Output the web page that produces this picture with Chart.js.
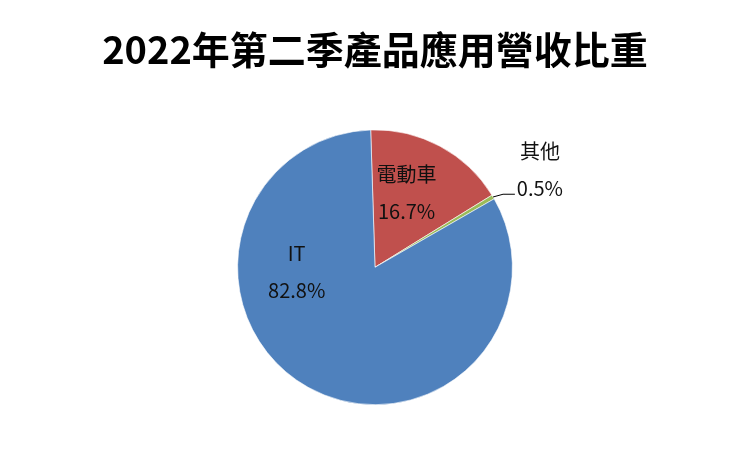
<!DOCTYPE html>
<html lang="zh-Hant">
  <head>
    <meta charset="UTF-8" />
    <title>2022年第二季產品應用營收比重</title>
    <script src="https://cdn.jsdelivr.net/npm/chart.js"></script>
    <style>
      html, body { margin: 0; padding: 0; background: #fff; }
      #wrap { width: 750px; height: 450px; }
    </style>
  </head>
  <body>
    <div id="wrap"><canvas id="pie"></canvas></div>
    <script>
      const categories = ["電動車", "其他", "IT"];
      const shares = [16.7, 0.5, 82.8];
      const sliceColors = ["#C0504D", "#9BBB59", "#4F81BD"];

      // label anchors in units of the pie radius, relative to its centre
      const labelSpots = [
        { dx: 0.23, dy: -0.54 },
        { dx: 1.2, dy: -0.71, leader: true },
        { dx: -0.57, dy: 0.03 },
      ];

      const FONT = '"Noto Sans CJK TC", "Noto Sans", sans-serif';

      const sliceLabels = {
        id: "sliceLabels",
        afterDatasetsDraw(chart) {
          const ctx = chart.ctx;
          const arcs = chart.getDatasetMeta(0).data;
          ctx.save();
          ctx.font = "20px " + FONT;
          ctx.fillStyle = "#111";
          ctx.textAlign = "center";
          ctx.textBaseline = "middle";
          arcs.forEach((arc, i) => {
            const { x, y, outerRadius: r, startAngle, endAngle } = arc;
            const spot = labelSpots[i];
            const cx = x + spot.dx * r;
            const cy = y + spot.dy * r;
            const gap = 18.5;
            ctx.fillText(categories[i], cx, cy - gap);
            ctx.fillText(shares[i].toFixed(1) + "%", cx, cy + gap);
            if (spot.leader) {
              const mid = (startAngle + endAngle) / 2;
              const ex = x + Math.cos(mid) * r;
              const ey = y + Math.sin(mid) * r;
              const ty = cy + gap + 6;
              const tx = cx - 25;
              ctx.beginPath();
              ctx.strokeStyle = "#000";
              ctx.lineWidth = 1;
              ctx.moveTo(ex, ey);
              ctx.lineTo(ex + 10, ty);
              ctx.lineTo(tx, ty);
              ctx.stroke();
            }
          });
          ctx.restore();
        },
      };

      new Chart(document.getElementById("pie"), {
        type: "pie",
        data: {
          labels: categories,
          datasets: [
            {
              data: shares,
              backgroundColor: sliceColors,
              borderColor: "#fff",
              borderWidth: 0.6,
            },
          ],
        },
        options: {
          responsive: true,
          maintainAspectRatio: false,
          animation: false,
          rotation: -1.8,
          layout: { padding: { top: 0, bottom: 45 } },
          plugins: {
            legend: { display: false },
            tooltip: { enabled: false },
            title: {
              display: true,
              text: "2022年第二季產品應用營收比重",
              color: "#000",
              font: { family: FONT, size: 38, weight: "bold", lineHeight: 1.2 },
              padding: { top: 27, bottom: 57 },
            },
          },
        },
        plugins: [sliceLabels],
      });
    </script>
  </body>
</html>
